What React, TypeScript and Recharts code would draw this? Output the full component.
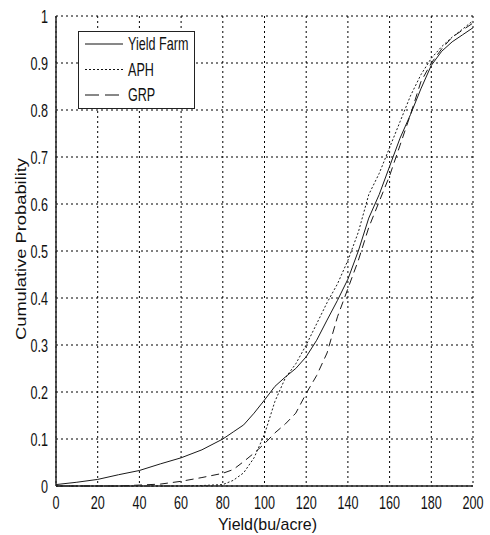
import React from 'react';
import { LineChart, Line, XAxis, YAxis, CartesianGrid, Legend } from 'recharts';

// Yield (bu/acre) sample points
const yieldX = [0, 10, 20, 30, 40, 50, 60, 70, 80, 85, 90, 95, 100, 105, 110, 115, 120, 125, 130, 135, 140, 145, 150, 155, 160, 165, 170, 175, 180, 185, 190, 195, 200];
// Cumulative probabilities
const yieldFarm = [0.003, 0.008, 0.014, 0.024, 0.033, 0.047, 0.06, 0.077, 0.1, 0.115, 0.13, 0.155, 0.183, 0.212, 0.232, 0.25, 0.275, 0.31, 0.353, 0.395, 0.44, 0.5, 0.57, 0.62, 0.68, 0.74, 0.79, 0.845, 0.895, 0.925, 0.945, 0.96, 0.975];
const aph = [0, 0, 0, 0, 0, 0, 0, 0.001, 0.003, 0.012, 0.028, 0.06, 0.11, 0.18, 0.23, 0.26, 0.3, 0.345, 0.39, 0.43, 0.48, 0.54, 0.62, 0.665, 0.72, 0.775, 0.83, 0.875, 0.91, 0.935, 0.955, 0.972, 0.99];
const grp = [0, 0, 0, 0, 0.002, 0.004, 0.01, 0.018, 0.027, 0.035, 0.052, 0.07, 0.09, 0.113, 0.132, 0.155, 0.197, 0.235, 0.283, 0.36, 0.42, 0.48, 0.55, 0.605, 0.66, 0.725, 0.79, 0.86, 0.9, 0.93, 0.955, 0.97, 0.985];

const seriesNames = ['Yield Farm', 'APH', 'GRP'];
const xTicks = [0, 20, 40, 60, 80, 100, 120, 140, 160, 180, 200];
const yTicks = [0, 0.1, 0.2, 0.3, 0.4, 0.5, 0.6, 0.7, 0.8, 0.9, 1];
const xLabel = 'Yield(bu/acre)';
const yLabel = 'Cumulative Probability';

const data = yieldX.map((x, i) => ({ x, yf: yieldFarm[i], aph: aph[i], grp: grp[i] }));

const FONT = "'Liberation Sans', Arial, sans-serif";
const TXT = '#111';
const DASHES = ['', '2 2', '8 5'];
const KEYS = ['yf', 'aph', 'grp'];

const fmtY = (v: number) => (v === 0 ? '0' : v === 1 ? '1' : v.toFixed(1));

const XTick = (props: any) => {
  const { x, y, payload } = props;
  return (
    <g transform={`translate(${x},${y})`}>
      <text x={0} y={0} dy={15} textAnchor="middle" transform="scale(0.7,1)" fontSize={18} fill={TXT} fontFamily={FONT}>
        {payload.value}
      </text>
    </g>
  );
};

const YTick = (props: any) => {
  const { x, y, payload } = props;
  return (
    <g transform={`translate(${x},${y})`}>
      <text x={0} y={0} dy={6.5} textAnchor="end" transform="scale(0.7,1)" fontSize={18} fill={TXT} fontFamily={FONT}>
        {fmtY(payload.value)}
      </text>
    </g>
  );
};

const XLabel = (props: any) => {
  const vb = props.viewBox || {};
  const cx = vb.x + vb.width / 2 + 3;
  const y = vb.y + vb.height;
  return (
    <text x={cx} y={y} textAnchor="middle" fontSize={17} fill={TXT} fontFamily={FONT} textLength={99} lengthAdjust="spacingAndGlyphs">
      {xLabel}
    </text>
  );
};

const YLabel = (props: any) => {
  const vb = props.viewBox || {};
  const cx = 26;
  const cy = vb.y + vb.height / 2 - 2;
  return (
    <text x={cx} y={cy} transform={`rotate(-90 ${cx} ${cy})`} textAnchor="middle" fontSize={14} fill={TXT} fontFamily={FONT} textLength={182} lengthAdjust="spacingAndGlyphs">
      {yLabel}
    </text>
  );
};

const LegendBox = () => (
  <svg width={117} height={78} style={{ display: 'block' }}>
    <rect x={0.5} y={0.5} width={116} height={77} fill="#fff" stroke="#222" strokeWidth={1} />
    {seriesNames.map((n, i) => {
      const ly = 13 + i * 25.5;
      return (
        <g key={n}>
          <line x1={7} x2={45} y1={ly} y2={ly} stroke="#111" strokeWidth={1} strokeDasharray={i === 2 ? '14 6' : DASHES[i]} />
          <text x={50} y={ly} dy={6.5} transform={`translate(${50 * 0.3},0) scale(0.7,1)`} fontSize={18} fill={TXT} fontFamily={FONT} textAnchor="start">
            {n}
          </text>
        </g>
      );
    })}
  </svg>
);

export default function App() {
  return (
    <div style={{ position: 'absolute', left: 0, top: 0, width: 490, height: 535, background: '#fff' }}>
      <LineChart width={490} height={535} data={data} margin={{ top: 16, right: 17, bottom: 5, left: 0 }}>
        <CartesianGrid stroke="#000" strokeDasharray="2 3" strokeWidth={1} />
        <XAxis
          dataKey="x"
          type="number"
          domain={[0, 200]}
          ticks={xTicks}
          interval={0}
          height={44}
          tickLine={false}
          axisLine={{ stroke: '#222', strokeWidth: 1.5 }}
          tick={<XTick />}
          label={<XLabel />}
        />
        <XAxis xAxisId="top" dataKey="x" type="number" orientation="top" domain={[0, 200]} height={0} tick={false} tickLine={false} axisLine={{ stroke: '#555', strokeWidth: 1.5 }} />
        <YAxis
          type="number"
          domain={[0, 1]}
          ticks={yTicks}
          interval={0}
          width={56}
          tickLine={false}
          axisLine={{ stroke: '#222', strokeWidth: 1.5 }}
          tick={<YTick />}
          label={<YLabel />}
        />
        <YAxis yAxisId="r" type="number" orientation="right" domain={[0, 1]} width={0} tick={false} tickLine={false} axisLine={{ stroke: '#555', strokeWidth: 1.5 }} />
        <Legend
          layout="horizontal"
          verticalAlign="middle"
          align="center"
          content={() => <LegendBox />}
          wrapperStyle={{ position: 'absolute', left: 78, top: 31, width: 117, height: 78 }}
        />
        {KEYS.map((k, i) => (
          <Line
            key={k}
            dataKey={k}
            name={seriesNames[i]}
            type="linear"
            stroke="#1a1a1a"
            strokeWidth={1}
            strokeDasharray={DASHES[i] || undefined}
            dot={false}
            activeDot={false}
            isAnimationActive={false}
          />
        ))}
      </LineChart>
    </div>
  );
}
